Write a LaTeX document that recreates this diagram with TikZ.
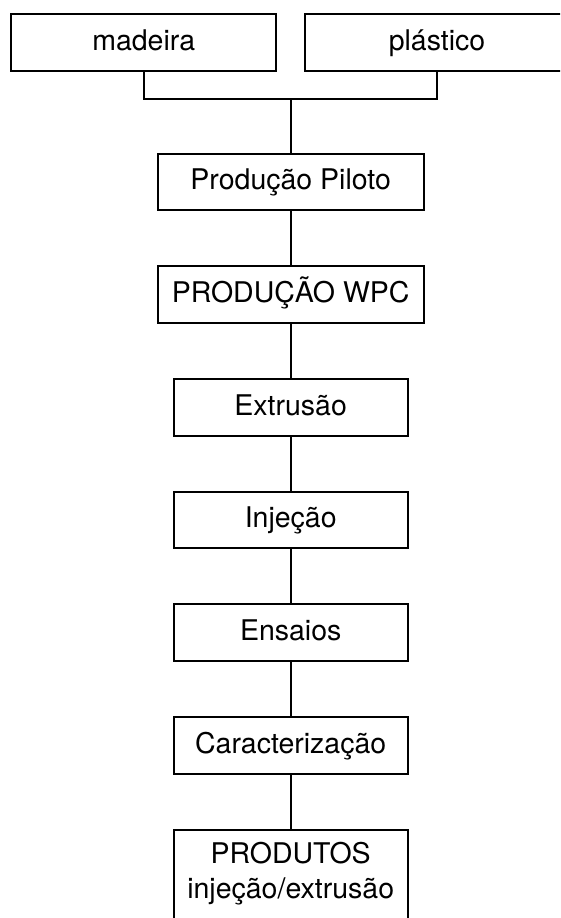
\documentclass[tikz,border=0pt]{standalone}
\usepackage{fontspec}
\setmainfont{TeX Gyre Heros}
\begin{document}
\begin{tikzpicture}[x=1pt,y=-1pt,
  box/.style={draw=black, line width=2pt, fill=white, inner sep=0pt, text height=21pt, text depth=5.6pt, font=\fontsize{28.5}{34}\selectfont},
  wide/.style={box, minimum width=265pt, minimum height=56.7pt},
  narrow/.style={box, minimum width=234pt, minimum height=56.7pt},
  txt/.style={inner sep=0pt, font=\fontsize{28.5}{34}\selectfont},
  link/.style={draw=black, line width=2pt}]
\useasboundingbox (0,0) rectangle (560,918);
\clip (0,0) rectangle (560,918);
\node[wide] (madeira) at (143.7,42.3) {madeira};
\node[wide, minimum width=264pt] (plastico) at (437,42.3) {plástico};
\node[wide, minimum width=265.6pt, minimum height=56pt] (piloto) at (290.7,182) {Produção Piloto};
\node[wide, minimum width=265.6pt, minimum height=57.6pt] (wpc) at (290.7,294.5) {PRODUÇÃO WPC};
\node[narrow] (extr) at (290.7,407.3) {Extrusão};
\node[narrow] (inj) at (290.7,520) {Injeção};
\node[narrow] (ens) at (290.7,632.7) {Ensaios};
\node[narrow, minimum height=57.3pt] (car) at (290.7,745.3) {Caracterização};
\node[narrow, minimum height=100pt, anchor=north, text height=0pt, text depth=0pt] (prod) at (290.7,829.3) {};
\node[txt, anchor=base] (prodA) at (290.7,863) {PRODUTOS};
\node[txt, anchor=base] (prodB) at (290.7,898) {injeção/extrusão};
\coordinate (junc) at (290.7,98.7);
\draw[link] (madeira.south) -- (madeira.south |- junc) -| (plastico.south);
\draw[link] (junc) -- (junc |- piloto.north);
\draw[link] (piloto) -- (wpc);
\draw[link] (wpc) -- (extr);
\draw[link] (extr) -- (inj);
\draw[link] (inj) -- (ens);
\draw[link] (ens) -- (car);
\draw[link] (car.south) -- (prod.north);
\end{tikzpicture}
\end{document}
